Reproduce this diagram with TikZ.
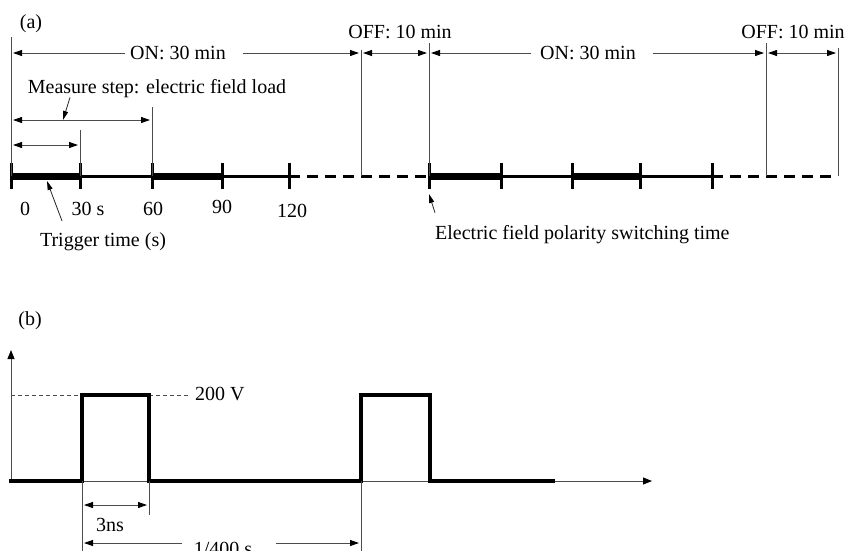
\documentclass[tikz,border=0pt]{standalone}
\usepackage{fontspec}
\setmainfont{Liberation Serif}
\usetikzlibrary{arrows.meta,positioning,calc}
\tikzset{
    lbl/.style={font=\fontsize{20}{24}\selectfont, inner sep=0pt, anchor=base},
    guide/.style={draw=black!70, line width=0.9pt},
    span/.style={guide, {Triangle[length=9pt,width=6pt,color=black]}-{Triangle[length=9pt,width=6pt,color=black]}, shorten <=2pt, shorten >=2pt},
    halfspan/.style={guide, -{Triangle[length=9pt,width=6pt,color=black]}, shorten >=2pt},
    pointer/.style={draw=black!85, line width=0.8pt, -{Triangle[length=9pt,width=5pt,color=black]}},
    loadseg/.style={line width=7pt},
    restseg/.style={line width=3pt},
    offseg/.style={line width=3pt, dash pattern=on 11pt off 7pt},
    tickmark/.style={line width=3pt},
    axis/.style={guide, -{Triangle[length=9pt,width=7pt,color=black]}},
    pulse/.style={line width=4pt, line join=miter},
    level/.style={draw=black!70, line width=0.8pt, dash pattern=on 4pt off 3pt},
}

\begin{document}
\begin{tikzpicture}[x=1pt, y=-1pt]
    \useasboundingbox (0,0) rectangle (846,550);

    % (a) measuring cycle
    \node[lbl] (lbla) at (31,28) {(a)};
    \foreach \x [count=\i] in {11,80,152,222,289,429,501,572,640,712,838}
        \coordinate (t\i) at (\x,176);
    \foreach \a/\b/\s in {1/2/loadseg, 2/3/restseg, 3/4/loadseg, 4/5/restseg, 5/6/offseg,
                          6/7/loadseg, 7/8/restseg, 8/9/loadseg, 9/10/restseg, 10/11/offseg}
        \draw[\s] (t\a) -- (t\b);
    \foreach \i in {1,...,10}
        \draw[tickmark] ($(t\i)+(0,-13)$) -- ($(t\i)+(0,13)$);

    \coordinate (g0) at (11,37);
    \coordinate (g30) at (80,130);
    \coordinate (g60) at (152,107);
    \coordinate (goff1) at (361,50);
    \coordinate (gon2) at (429,43);
    \coordinate (goff2) at (766,43);
    \coordinate (gend) at (838,48);
    \foreach \g in {g0,g30,g60,goff1,gon2,goff2,gend}
        \draw[guide] (\g) -- (\g |- t1);

    \coordinate (lvlon) at (0,53);
    \coordinate (lvlms) at (0,120);
    \coordinate (lvltr) at (0,145);

    \node[lbl] (on1txt) at (178,59) {ON: 30 min};
    \draw[halfspan] ($(on1txt.west |- lvlon)+(-5,0)$) -- (g0 |- lvlon);
    \draw[halfspan] ($(on1txt.east |- lvlon)+(17,0)$) -- (goff1 |- lvlon);
    \node[lbl] (off1txt) at (400,38) {OFF: 10 min};
    \draw[span] (goff1 |- lvlon) -- (gon2 |- lvlon);
    \node[lbl] (on2txt) at (588,59) {ON: 30 min};
    \draw[halfspan] ($(on2txt.west |- lvlon)+(-9,0)$) -- (gon2 |- lvlon);
    \draw[halfspan] ($(on2txt.east |- lvlon)+(17,0)$) -- (goff2 |- lvlon);
    \node[lbl] (off2txt) at (793,38) {OFF: 10 min};
    \draw[span] (goff2 |- lvlon) -- (gend |- lvlon);

    \node[lbl] (measure) at (157,93) {Measure step: electric field load};
    \coordinate (mtip) at (63,120);
    \draw[span] (g0 |- lvlms) -- (g60 |- lvlms);
    \draw[pointer] ([xshift=-87pt]measure.south) -- (mtip);
    \draw[span] (g0 |- lvltr) -- (g30 |- lvltr);

    \foreach \x/\y/\t [count=\i] in {25/215/0, 88/215/30 s, 153/215/60, 222/213/90, 292/217/120}
        \node[lbl] (sec\i) at (\x,\y) {\t};
    \node[lbl] (trigger) at (103,246) {Trigger time (s)};
    \coordinate (ttip) at (47,181);
    \draw[pointer] ([xshift=-41pt,yshift=11pt]trigger.north) -- (ttip);
    \node[lbl, anchor=base west] (polarity) at (435,239) {Electric field polarity switching time};
    \coordinate (ptip) at (429,194);
    \draw[pointer] ([yshift=12pt]polarity.north west) -- (ptip);

    % (b) pulse train
    \node[lbl] (lblb) at (30,325) {(b)};
    \coordinate (o) at (11,481);
    \coordinate (ytop) at (11,350);
    \coordinate (xend) at (652,481);
    \coordinate (sstart) at (9,481);
    \coordinate (up1) at (82,395);
    \coordinate (dn1) at (149,395);
    \coordinate (up2) at (361,395);
    \coordinate (dn2) at (430,395);
    \coordinate (send) at (555,481);
    \draw[axis] (o) -- (ytop);
    \draw[axis] (o) -- (xend);
    \node[lbl, anchor=base west] (volt) at (195,400) {200 V};
    \draw[level] (o |- up1) -- (up1);
    \draw[level] (dn1) -- ($(volt.west |- dn1)+(-6,0)$);
    \draw[pulse] (sstart) -- (up1 |- o) -- (up1) -- (dn1) -- (dn1 |- o) -- (up2 |- o)
        -- (up2) -- (dn2) -- (dn2 |- o) -- (send);

    \coordinate (b1) at (82,552);
    \coordinate (b2) at (149,515);
    \coordinate (b3) at (361,552);
    \foreach \b in {b1,b2,b3}
        \draw[guide] (\b |- o) -- (\b);
    \coordinate (lvlns) at (0,505);
    \coordinate (lvlper) at (0,543);
    \draw[span] (b1 |- lvlns) -- (b2 |- lvlns);
    \node[lbl] (ns) at (110,531) {3ns};
    \node[lbl] (period) at (223,555) {1/400 s};
    \draw[halfspan] ($(period.west |- lvlper)+(-12,0)$) -- (b1 |- lvlper);
    \draw[halfspan] ($(period.east |- lvlper)+(24,0)$) -- (b3 |- lvlper);
\end{tikzpicture}
\end{document}
